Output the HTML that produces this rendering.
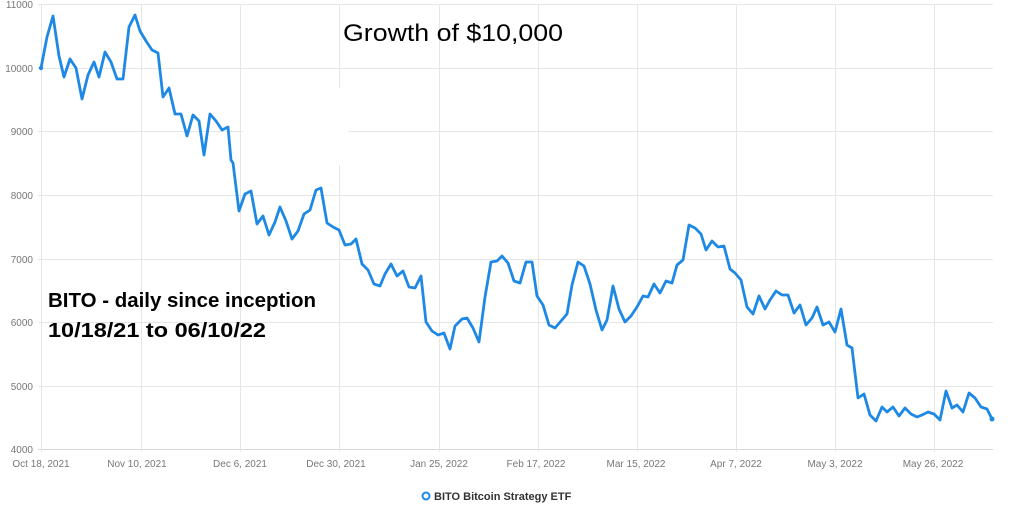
<!DOCTYPE html>
<html><head><meta charset="utf-8"><style>
body{margin:0;background:#fff;width:1024px;height:512px;overflow:hidden}
svg{display:block}
</style></head><body>
<svg width="1024" height="512" xmlns="http://www.w3.org/2000/svg" font-family="Liberation Sans, sans-serif">
<g stroke="#e6e6e6" stroke-width="1">
<line x1="38" y1="4.5" x2="993" y2="4.5"/><line x1="38" y1="68.5" x2="993" y2="68.5"/><line x1="38" y1="131.5" x2="993" y2="131.5"/><line x1="38" y1="195.5" x2="993" y2="195.5"/><line x1="38" y1="259.5" x2="993" y2="259.5"/><line x1="38" y1="322.5" x2="993" y2="322.5"/><line x1="38" y1="386.5" x2="993" y2="386.5"/><line x1="38" y1="449.5" x2="993" y2="449.5" stroke="#d8d8d8"/>
<line x1="41.5" y1="4" x2="41.5" y2="452"/><line x1="141.5" y1="4" x2="141.5" y2="452"/><line x1="240.5" y1="4" x2="240.5" y2="452"/><line x1="339.5" y1="4" x2="339.5" y2="452"/><line x1="439.5" y1="4" x2="439.5" y2="452"/><line x1="538.5" y1="4" x2="538.5" y2="452"/><line x1="637.5" y1="4" x2="637.5" y2="452"/><line x1="736.5" y1="4" x2="736.5" y2="452"/><line x1="835.5" y1="4" x2="835.5" y2="452"/><line x1="934.5" y1="4" x2="934.5" y2="452"/>
</g>
<rect x="243" y="88" width="105" height="77" fill="#fff"/>
<g fill="#777" font-size="10" text-anchor="end">
<text x="33" y="8">11000</text><text x="33" y="72">10000</text><text x="33" y="135">9000</text><text x="33" y="199">8000</text><text x="33" y="263">7000</text><text x="33" y="326">6000</text><text x="33" y="390">5000</text><text x="33" y="453">4000</text>
</g>
<g fill="#777" font-size="10" text-anchor="middle">
<text x="41" y="467">Oct 18, 2021</text><text x="137" y="467">Nov 10, 2021</text><text x="240" y="467">Dec 6, 2021</text><text x="336" y="467">Dec 30, 2021</text><text x="439" y="467">Jan 25, 2022</text><text x="536" y="467">Feb 17, 2022</text><text x="636" y="467">Mar 15, 2022</text><text x="736" y="467">Apr 7, 2022</text><text x="835" y="467">May 3, 2022</text><text x="933" y="467">May 26, 2022</text>
</g>
<polyline fill="none" stroke="#1e88e5" stroke-width="2.8" stroke-linejoin="round" points="41,68 47,37 53,16 59,56 64,77 70,59 76,68 82,99 88,75 94,62 99,77 105,52 111,62 117,79 123,79 129,27 135,15 140,31 146,41 152,50 158,53 163,97 169,88 175,114 181,114 187,136 193,115 199,121 204,155 210,114 216,121 222,130 228,127 231,160 233,163 239,211 245,194 251,191 257,224 263,216 269,235 275,222 280,207 286,221 292,239 298,231 304,214 310,210 316,190 321,188 327,223 333,227 339,230 345,245 351,244 356,239 362,264 368,270 374,284 380,286 385,274 391,264 397,276 403,271 409,287 415,288 421,276 426,322 432,331 438,335 444,333 450,349 455,326 462,319 467,318 473,328 479,342 485,297 491,262 497,261 502,256 508,263 514,281 520,283 526,262 532,262 537,296 543,305 549,325 555,328 561,321 567,314 572,285 578,262 584,266 590,284 596,310 602,330 607,320 613,286 619,309 625,322 631,316 637,307 643,296 648,297 654,284 660,293 666,281 672,283 677,265 683,260 689,225 695,228 701,234 706,250 712,241 718,247 724,246 730,269 735,273 741,280 747,307 753,314 759,296 765,309 770,300 776,291 782,295 788,295 794,313 800,305 806,325 812,318 817,307 823,325 829,322 835,332 841,309 847,345 852,348 858,398 864,394 870,415 876,421 882,407 887,412 893,407 899,416 905,408 911,414 917,417 922,415 928,412 934,414 940,420 946,391 952,408 957,405 963,412 969,393 975,398 981,407 987,409 992,419"/>
<circle cx="41" cy="68" r="2.2" fill="#1e88e5"/><circle cx="992" cy="419" r="2.5" fill="#1e88e5"/>
<text x="343" y="41" font-size="24" fill="#000" textLength="220" lengthAdjust="spacingAndGlyphs">Growth of $10,000</text>
<text x="48" y="307" font-size="20" font-weight="bold" fill="#000" textLength="268" lengthAdjust="spacingAndGlyphs">BITO - daily since inception</text>
<text x="48" y="337" font-size="20" font-weight="bold" fill="#000" textLength="218" lengthAdjust="spacingAndGlyphs">10/18/21 to 06/10/22</text>
<circle cx="426" cy="496" r="3.5" fill="#fff" stroke="#1e88e5" stroke-width="2"/>
<text x="434" y="500" font-size="11" font-weight="bold" fill="#333">BITO Bitcoin Strategy ETF</text>
</svg>
</body></html>
